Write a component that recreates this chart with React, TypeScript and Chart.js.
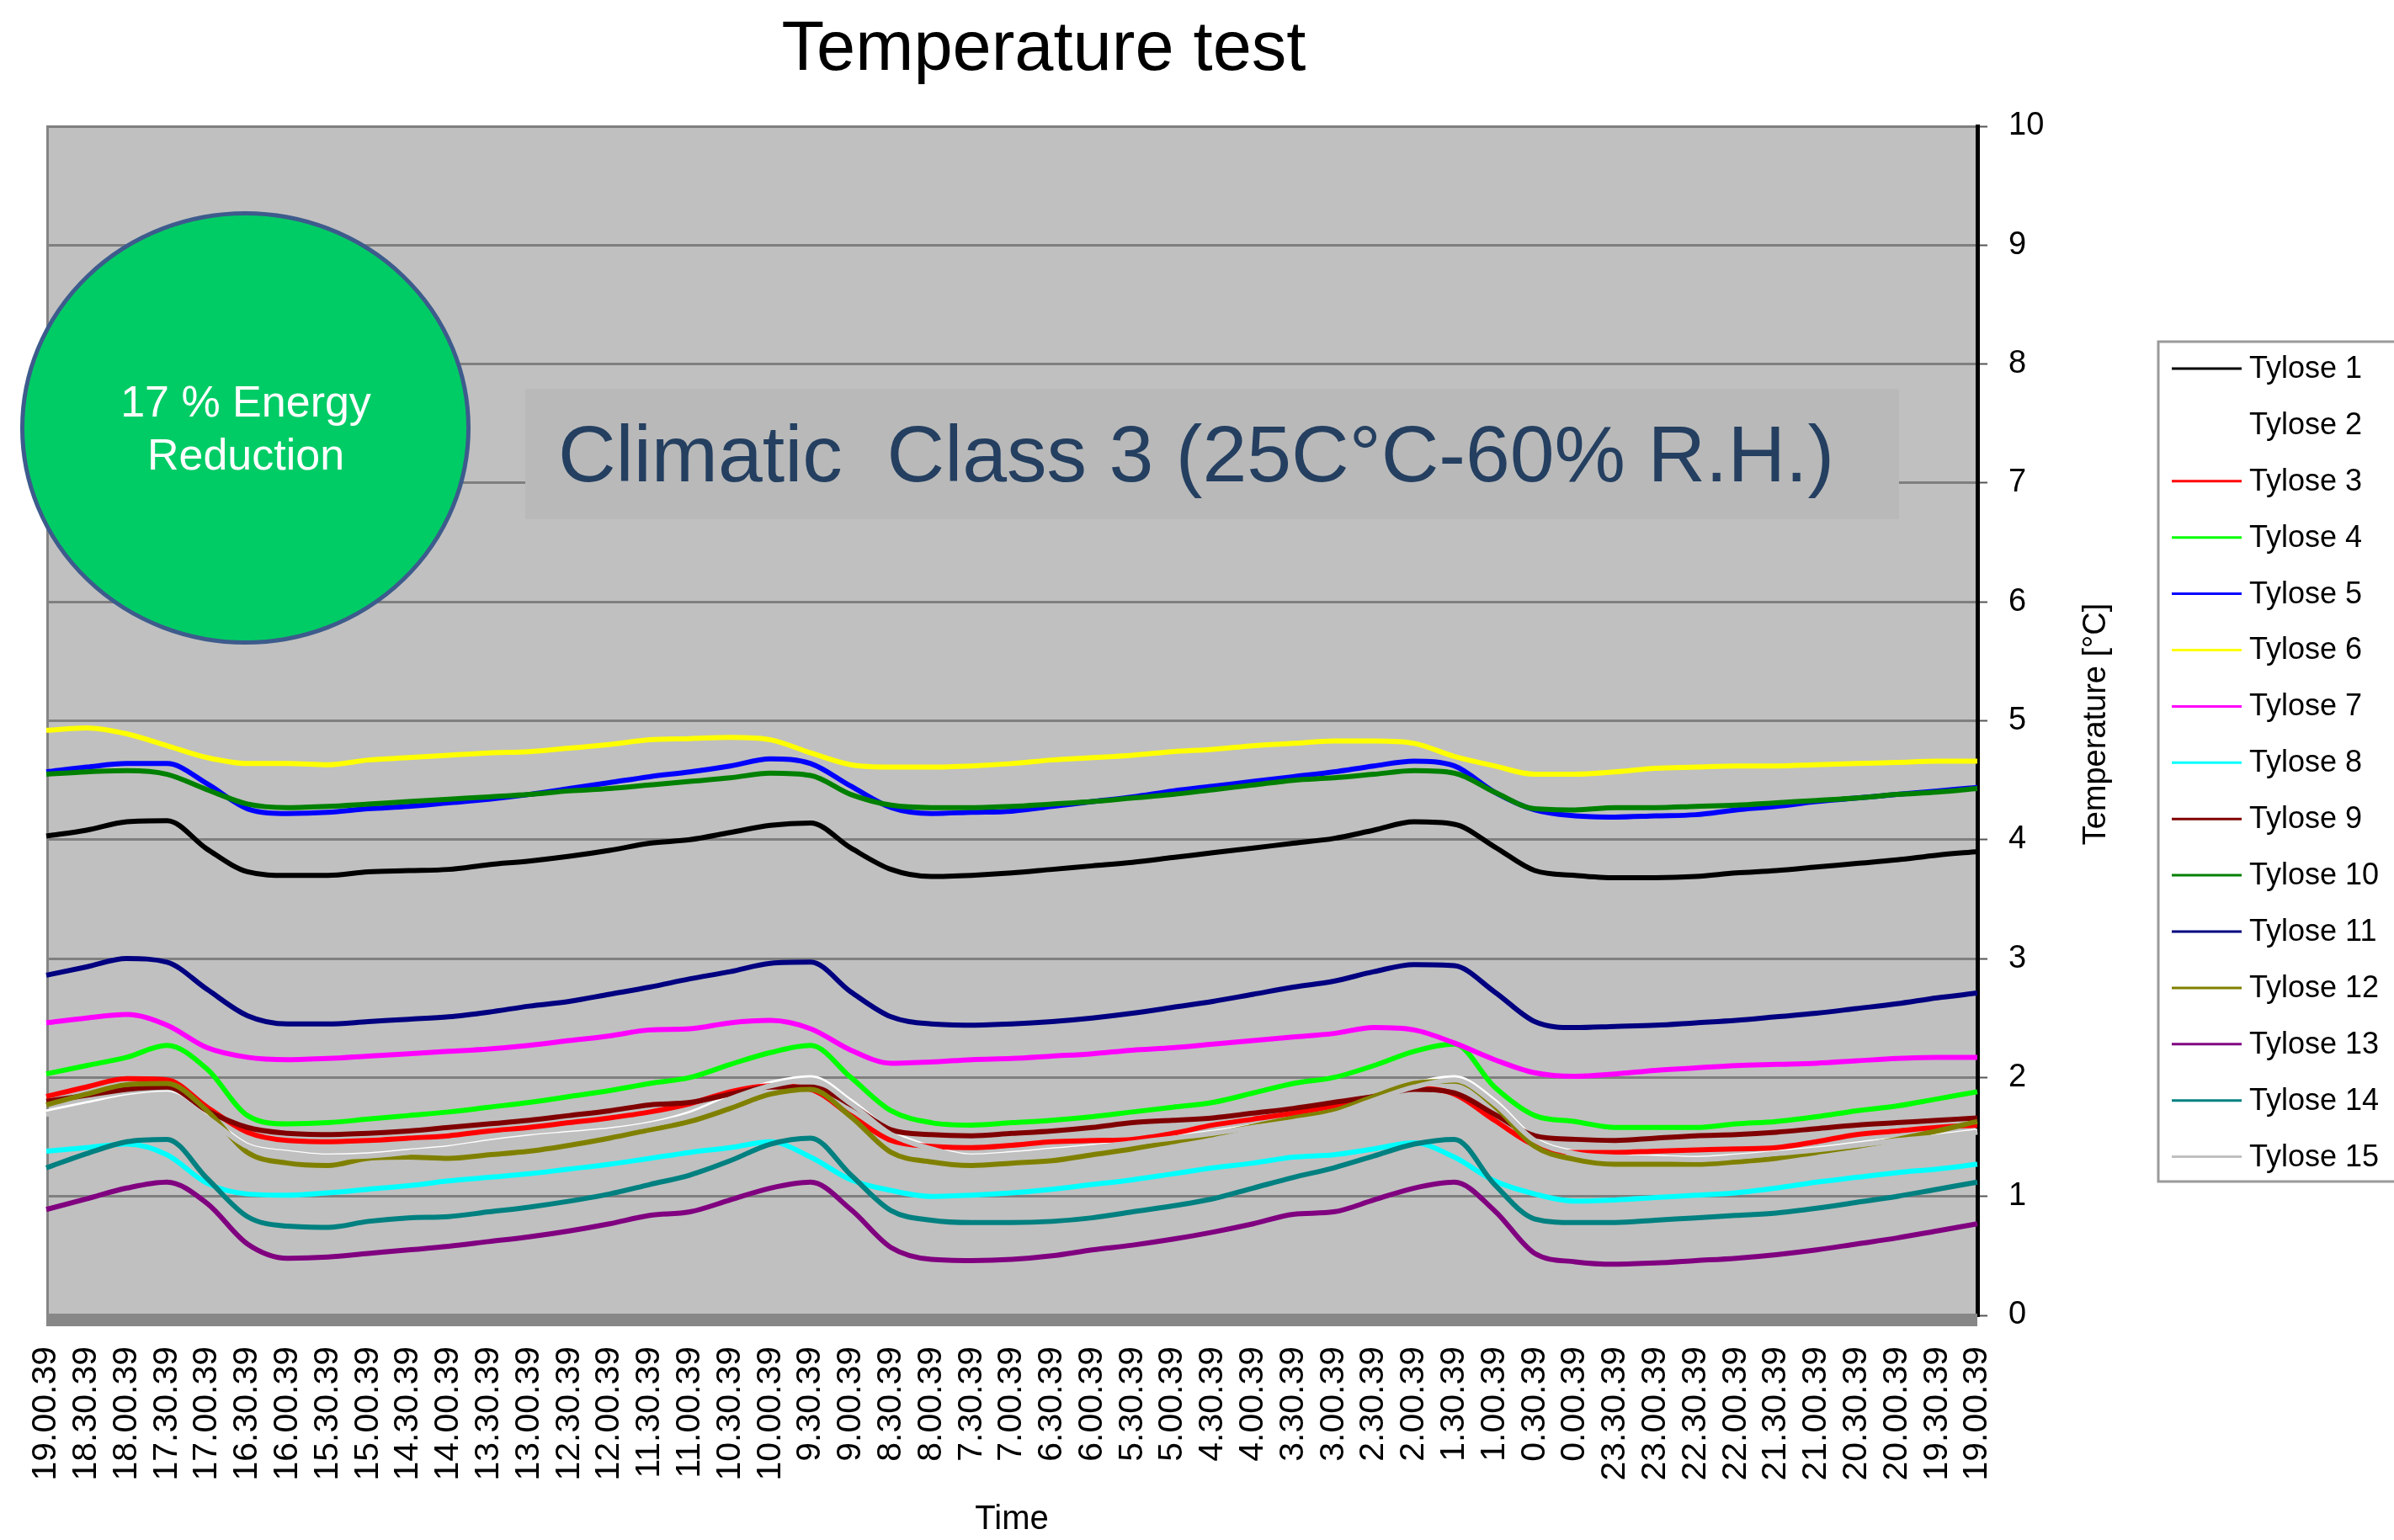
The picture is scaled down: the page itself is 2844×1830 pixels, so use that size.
import React, { useEffect, useRef } from 'react';
import { Chart, registerables } from 'chart.js';

Chart.register(...registerables);

const FONT = "'Liberation Sans', Arial, Helvetica, sans-serif";

const timeLabels = [
  '19.00.39', '18.30.39', '18.00.39', '17.30.39', '17.00.39', '16.30.39', '16.00.39',
  '15.30.39', '15.00.39', '14.30.39', '14.00.39', '13.30.39', '13.00.39', '12.30.39',
  '12.00.39', '11.30.39', '11.00.39', '10.30.39', '10.00.39', '9.30.39', '9.00.39',
  '8.30.39', '8.00.39', '7.30.39', '7.00.39', '6.30.39', '6.00.39', '5.30.39',
  '5.00.39', '4.30.39', '4.00.39', '3.30.39', '3.00.39', '2.30.39', '2.00.39',
  '1.30.39', '1.00.39', '0.30.39', '0.00.39', '23.30.39', '23.00.39', '22.30.39',
  '22.00.39', '21.30.39', '21.00.39', '20.30.39', '20.00.39', '19.30.39', '19.00.39',
];

const yTicks = [0, 1, 2, 3, 4, 5, 6, 7, 8, 9, 10];

const tylose1 = [4.03, 4.08, 4.15, 4.16, 3.92, 3.73, 3.70, 3.70, 3.73, 3.74, 3.75, 3.79, 3.82, 3.86, 3.91, 3.97, 4.00, 4.06, 4.12, 4.14, 3.93, 3.75, 3.69, 3.70, 3.72, 3.75, 3.78, 3.81, 3.85, 3.89, 3.93, 3.97, 4.01, 4.08, 4.15, 4.13, 3.94, 3.74, 3.70, 3.68, 3.68, 3.69, 3.72, 3.74, 3.77, 3.80, 3.83, 3.87, 3.90];
const tylose2 = [1.71, 1.78, 1.84, 1.87, 1.67, 1.43, 1.37, 1.34, 1.35, 1.38, 1.41, 1.46, 1.50, 1.53, 1.56, 1.61, 1.70, 1.84, 1.95, 2.00, 1.80, 1.54, 1.41, 1.34, 1.36, 1.39, 1.42, 1.46, 1.50, 1.54, 1.59, 1.64, 1.70, 1.82, 1.94, 2.00, 1.80, 1.48, 1.37, 1.34, 1.33, 1.32, 1.34, 1.37, 1.40, 1.44, 1.48, 1.51, 1.55];
const tylose3 = [1.84, 1.92, 1.99, 1.98, 1.75, 1.54, 1.47, 1.46, 1.47, 1.49, 1.51, 1.55, 1.58, 1.62, 1.66, 1.71, 1.78, 1.88, 1.93, 1.90, 1.68, 1.47, 1.42, 1.41, 1.43, 1.46, 1.47, 1.48, 1.53, 1.60, 1.65, 1.70, 1.76, 1.84, 1.91, 1.86, 1.64, 1.43, 1.37, 1.37, 1.38, 1.39, 1.40, 1.41, 1.46, 1.52, 1.55, 1.58, 1.60];
const tylose4 = [2.03, 2.10, 2.17, 2.27, 2.07, 1.68, 1.61, 1.62, 1.65, 1.68, 1.71, 1.75, 1.79, 1.84, 1.89, 1.95, 2.00, 2.11, 2.21, 2.27, 2.00, 1.72, 1.62, 1.60, 1.62, 1.64, 1.67, 1.71, 1.75, 1.79, 1.87, 1.95, 2.00, 2.10, 2.22, 2.28, 1.92, 1.68, 1.63, 1.58, 1.58, 1.58, 1.61, 1.63, 1.67, 1.72, 1.76, 1.82, 1.88];
const tylose5 = [4.57, 4.61, 4.64, 4.64, 4.47, 4.26, 4.22, 4.23, 4.26, 4.28, 4.31, 4.34, 4.38, 4.43, 4.48, 4.53, 4.57, 4.62, 4.68, 4.64, 4.45, 4.27, 4.22, 4.23, 4.24, 4.28, 4.32, 4.36, 4.41, 4.45, 4.49, 4.53, 4.57, 4.62, 4.66, 4.62, 4.40, 4.25, 4.20, 4.19, 4.20, 4.21, 4.25, 4.28, 4.32, 4.35, 4.38, 4.41, 4.44];
const tylose6 = [4.92, 4.94, 4.89, 4.79, 4.69, 4.64, 4.64, 4.63, 4.67, 4.69, 4.71, 4.73, 4.74, 4.77, 4.80, 4.84, 4.85, 4.86, 4.84, 4.73, 4.63, 4.61, 4.61, 4.62, 4.64, 4.67, 4.69, 4.71, 4.74, 4.76, 4.79, 4.81, 4.83, 4.83, 4.81, 4.70, 4.62, 4.55, 4.55, 4.57, 4.60, 4.61, 4.62, 4.62, 4.63, 4.64, 4.65, 4.66, 4.66];
const tylose7 = [2.46, 2.50, 2.53, 2.44, 2.25, 2.17, 2.15, 2.16, 2.18, 2.20, 2.22, 2.24, 2.27, 2.31, 2.35, 2.40, 2.41, 2.46, 2.48, 2.41, 2.23, 2.12, 2.13, 2.15, 2.16, 2.18, 2.20, 2.23, 2.25, 2.28, 2.31, 2.34, 2.37, 2.42, 2.40, 2.29, 2.15, 2.04, 2.01, 2.03, 2.06, 2.08, 2.10, 2.11, 2.12, 2.14, 2.16, 2.17, 2.17];
const tylose8 = [1.38, 1.41, 1.44, 1.35, 1.11, 1.02, 1.01, 1.03, 1.06, 1.09, 1.13, 1.16, 1.19, 1.23, 1.27, 1.32, 1.37, 1.41, 1.46, 1.33, 1.14, 1.05, 1.00, 1.01, 1.03, 1.06, 1.10, 1.14, 1.19, 1.24, 1.28, 1.33, 1.35, 1.40, 1.45, 1.33, 1.13, 1.02, 0.96, 0.97, 0.99, 1.01, 1.03, 1.07, 1.12, 1.16, 1.20, 1.23, 1.27];
const tylose9 = [1.80, 1.85, 1.90, 1.92, 1.72, 1.58, 1.53, 1.52, 1.53, 1.55, 1.58, 1.61, 1.64, 1.68, 1.72, 1.77, 1.79, 1.86, 1.92, 1.92, 1.77, 1.56, 1.52, 1.51, 1.53, 1.55, 1.58, 1.62, 1.64, 1.66, 1.70, 1.74, 1.79, 1.84, 1.90, 1.87, 1.69, 1.51, 1.48, 1.47, 1.49, 1.51, 1.52, 1.54, 1.57, 1.60, 1.62, 1.64, 1.66];
const tylose10 = [4.55, 4.57, 4.58, 4.55, 4.42, 4.30, 4.27, 4.28, 4.30, 4.32, 4.34, 4.36, 4.38, 4.41, 4.43, 4.46, 4.49, 4.52, 4.56, 4.54, 4.38, 4.29, 4.27, 4.27, 4.28, 4.30, 4.32, 4.35, 4.38, 4.42, 4.46, 4.50, 4.52, 4.55, 4.58, 4.56, 4.40, 4.26, 4.25, 4.27, 4.27, 4.28, 4.29, 4.31, 4.33, 4.35, 4.38, 4.40, 4.43];
const tylose11 = [2.86, 2.93, 3.00, 2.97, 2.74, 2.52, 2.45, 2.45, 2.47, 2.49, 2.51, 2.55, 2.60, 2.64, 2.70, 2.76, 2.83, 2.89, 2.96, 2.97, 2.72, 2.51, 2.45, 2.44, 2.45, 2.47, 2.50, 2.54, 2.59, 2.64, 2.70, 2.76, 2.81, 2.89, 2.95, 2.94, 2.72, 2.47, 2.42, 2.43, 2.44, 2.46, 2.48, 2.51, 2.54, 2.58, 2.62, 2.67, 2.71];
const tylose12 = [1.77, 1.86, 1.94, 1.95, 1.72, 1.37, 1.28, 1.26, 1.32, 1.33, 1.32, 1.35, 1.38, 1.43, 1.49, 1.56, 1.63, 1.74, 1.86, 1.90, 1.67, 1.37, 1.29, 1.26, 1.28, 1.30, 1.35, 1.40, 1.46, 1.52, 1.59, 1.66, 1.72, 1.84, 1.95, 1.97, 1.76, 1.42, 1.31, 1.27, 1.27, 1.27, 1.29, 1.32, 1.37, 1.42, 1.48, 1.55, 1.63];
const tylose13 = [0.89, 0.98, 1.07, 1.12, 0.94, 0.60, 0.48, 0.49, 0.52, 0.55, 0.58, 0.62, 0.66, 0.71, 0.77, 0.84, 0.87, 0.97, 1.07, 1.12, 0.89, 0.57, 0.47, 0.46, 0.47, 0.50, 0.55, 0.59, 0.64, 0.70, 0.77, 0.85, 0.87, 0.97, 1.07, 1.12, 0.88, 0.52, 0.45, 0.43, 0.44, 0.46, 0.48, 0.51, 0.55, 0.60, 0.65, 0.71, 0.77];
const tylose14 = [1.24, 1.36, 1.46, 1.48, 1.15, 0.83, 0.75, 0.74, 0.79, 0.82, 0.83, 0.87, 0.91, 0.96, 1.02, 1.10, 1.18, 1.30, 1.44, 1.49, 1.18, 0.88, 0.80, 0.78, 0.78, 0.79, 0.82, 0.87, 0.92, 0.98, 1.07, 1.16, 1.24, 1.34, 1.44, 1.48, 1.10, 0.81, 0.78, 0.78, 0.80, 0.82, 0.84, 0.86, 0.90, 0.95, 1.00, 1.06, 1.12];
const tylose15 = [1.69, 1.76, 1.83, 1.86, 1.66, 1.42, 1.36, 1.33, 1.34, 1.37, 1.40, 1.45, 1.49, 1.52, 1.55, 1.60, 1.68, 1.82, 1.93, 1.98, 1.78, 1.52, 1.40, 1.33, 1.35, 1.38, 1.41, 1.45, 1.49, 1.53, 1.58, 1.63, 1.69, 1.81, 1.92, 1.98, 1.78, 1.47, 1.36, 1.33, 1.32, 1.31, 1.33, 1.36, 1.39, 1.43, 1.47, 1.50, 1.54];

const seriesNames = [
  'Tylose 1', 'Tylose 2', 'Tylose 3', 'Tylose 4', 'Tylose 5', 'Tylose 6', 'Tylose 7', 'Tylose 8',
  'Tylose 9', 'Tylose 10', 'Tylose 11', 'Tylose 12', 'Tylose 13', 'Tylose 14', 'Tylose 15',
];
const seriesValues = [
  tylose1, tylose2, tylose3, tylose4, tylose5, tylose6, tylose7, tylose8,
  tylose9, tylose10, tylose11, tylose12, tylose13, tylose14, tylose15,
];
const seriesColors = [
  '#000000', '#FFFFFF', '#FF0000', '#00FF00', '#0000FF', '#FFFF00', '#FF00FF', '#00FFFF',
  '#800000', '#008000', '#000080', '#808000', '#800080', '#008080', '#C0C0C0',
];

const chartTitle = 'Temperature test';
const xTitle = 'Time';
const yTitle = 'Temperature [°C]';
const bubbleLines = ['17 % Energy', 'Reduction'];
const noteText = 'Climatic  Class 3 (25C°C-60% R.H.)';

const decorPlugin = {
  id: 'decor',
  beforeDraw(chart: any) {
    const { ctx, chartArea: a } = chart;
    ctx.save();
    ctx.fillStyle = '#C0C0C0';
    ctx.fillRect(a.left, a.top, a.right - a.left, a.bottom - a.top);
    ctx.restore();
  },
  beforeDatasetsDraw(chart: any) {
    const { ctx, chartArea: a } = chart;
    ctx.save();
    ctx.strokeStyle = '#858585';
    ctx.lineWidth = 3;
    ctx.beginPath();
    ctx.moveTo(a.left + 1.5, a.top);
    ctx.lineTo(a.left + 1.5, a.bottom);
    ctx.stroke();
    ctx.restore();
  },
  afterDatasetsDraw(chart: any) {
    const { ctx, chartArea: a } = chart;
    ctx.save();
    ctx.fillStyle = '#878787';
    ctx.fillRect(a.left, a.bottom - 2, a.right - a.left, 15);
    ctx.restore();
  },
  afterDraw(chart: any) {
    const { ctx, chartArea: a } = chart;
    ctx.save();
    // title
    ctx.fillStyle = '#000';
    ctx.font = `83px ${FONT}`;
    ctx.textAlign = 'center';
    ctx.textBaseline = 'alphabetic';
    ctx.fillText(chartTitle, 1240, 83);

    // y axis title (reads bottom-to-top)
    ctx.save();
    ctx.translate(2491, (a.top + a.bottom) / 2 + 4);
    ctx.rotate(-Math.PI / 2);
    ctx.font = `38px ${FONT}`;
    ctx.textAlign = 'center';
    ctx.textBaseline = 'middle';
    ctx.fillText(yTitle, 0, 0);
    ctx.restore();

    // note box
    ctx.fillStyle = '#B9B9B9';
    ctx.fillRect(624, 462, 1632, 155);
    ctx.fillStyle = '#243F60';
    ctx.font = `95px ${FONT}`;
    ctx.textAlign = 'left';
    ctx.textBaseline = 'alphabetic';
    ctx.fillText(noteText, 663, 572);

    // energy bubble
    ctx.beginPath();
    ctx.ellipse(291.5, 508.5, 265, 255, 0, 0, Math.PI * 2);
    ctx.fillStyle = '#00CC66';
    ctx.fill();
    ctx.lineWidth = 5;
    ctx.strokeStyle = '#3D5B8C';
    ctx.stroke();
    ctx.fillStyle = '#FFFFFF';
    ctx.font = `52px ${FONT}`;
    ctx.textAlign = 'center';
    ctx.fillText(bubbleLines[0], 292, 495);
    ctx.fillText(bubbleLines[1], 292, 558);

    // legend
    ctx.strokeStyle = '#9A9A9A';
    ctx.lineWidth = 3;
    ctx.strokeRect(2564, 406, 320, 998);
    ctx.font = `36px ${FONT}`;
    ctx.textAlign = 'left';
    ctx.textBaseline = 'middle';
    chart.data.datasets.forEach((ds: any, i: number) => {
      const y = 438 + i * 66.9;
      ctx.strokeStyle = ds.borderColor;
      ctx.lineWidth = 3;
      ctx.beginPath();
      ctx.moveTo(2580, y);
      ctx.lineTo(2663, y);
      ctx.stroke();
      ctx.fillStyle = '#000';
      ctx.fillText(ds.label, 2672, y + 1);
    });
    ctx.restore();
  },
};

export default function App() {
  const canvasRef = useRef<HTMLCanvasElement | null>(null);

  useEffect(() => {
    if (!canvasRef.current) return;
    Chart.defaults.font.family = FONT;
    const datasets = seriesNames.map((name, i) => ({
      label: name,
      data: seriesValues[i],
      borderColor: seriesColors[i],
      backgroundColor: seriesColors[i],
      borderWidth: 6,
      pointRadius: 0,
      fill: false,
      tension: 0.4,
      cubicInterpolationMode: 'monotone' as const,
      order: -i,
    }));
    const chart = new Chart(canvasRef.current, {
      type: 'line',
      data: { labels: timeLabels, datasets },
      options: {
        responsive: false,
        animation: false,
        devicePixelRatio: 1,
        layout: { padding: { left: 55, top: 150, right: 325, bottom: 0 } },
        plugins: {
          legend: { display: false },
          title: { display: false },
          tooltip: { enabled: false },
        },
        scales: {
          x: {
            type: 'category',
            offset: false,
            grid: { display: false, drawTicks: false },
            border: { display: false },
            ticks: {
              autoSkip: false,
              maxRotation: 90,
              minRotation: 90,
              padding: 37,
              color: '#000',
              font: { size: 41 },
            },
            title: {
              display: true,
              text: xTitle,
              color: '#000',
              font: { size: 40 },
              padding: { top: 0, bottom: 0 },
            },
            afterFit: (s: any) => {
              s.height = 267;
            },
          },
          y: {
            position: 'right',
            min: yTicks[0],
            max: yTicks[yTicks.length - 1],
            afterBuildTicks: (s: any) => {
              s.ticks = yTicks.map((v) => ({ value: v }));
            },
            ticks: {
              stepSize: 1,
              padding: 25,
              color: '#000',
              font: { size: 38 },
            },
            grid: {
              color: '#7F7F7F',
              lineWidth: 3,
              tickLength: 12,
              tickColor: '#555',
              tickWidth: 2,
            },
            border: { color: '#000', width: 5 },
            afterFit: (s: any) => {
              s.width = 170;
            },
          },
        },
      } as any,
      plugins: [decorPlugin],
    });
    return () => chart.destroy();
  }, []);

  return (
    <div style={{ position: 'absolute', left: 0, top: 0, width: 2844, height: 1830, background: '#fff' }}>
      <canvas ref={canvasRef} width={2844} height={1830} style={{ width: 2844, height: 1830, display: 'block' }} />
    </div>
  );
}
